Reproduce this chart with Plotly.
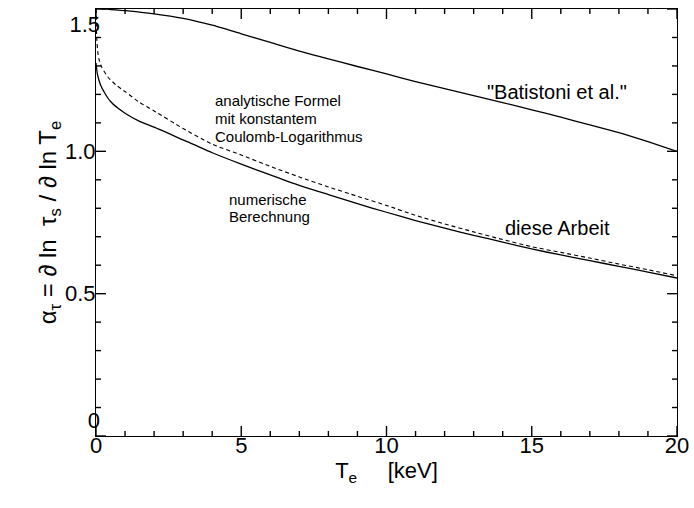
import plotly.graph_objects as go

# --- data ---
T_bat = [0, 1, 2, 3, 4, 5, 6, 7, 8, 9, 10, 11, 12, 13, 14, 15, 16, 17, 18, 19, 20]
alpha_bat = [1.502, 1.494, 1.483, 1.467, 1.443, 1.413, 1.383, 1.352, 1.325, 1.298, 1.272,
             1.245, 1.22, 1.196, 1.171, 1.146, 1.12, 1.093, 1.066, 1.034, 1.0]

T_num = [0, 0.05, 0.15, 0.3, 0.5, 0.75, 1, 1.5, 2, 3, 4, 5, 6, 7, 8, 9, 10, 11, 12, 13,
         14, 15, 16, 17, 18, 19, 20]
alpha_num = [1.31, 1.27, 1.235, 1.205, 1.175, 1.152, 1.134, 1.105, 1.085, 1.04, 0.995, 0.955,
             0.917, 0.88, 0.848, 0.816, 0.786, 0.757, 0.73, 0.705, 0.681, 0.657, 0.636,
             0.616, 0.596, 0.576, 0.555]

T_ana = [0, 0.01, 0.03, 0.06, 0.1, 0.2, 0.4, 0.7, 1, 1.5, 2, 3, 4, 5, 6, 7, 8, 9, 10, 11,
         12, 13, 14, 15, 16, 17, 18, 19, 20]
alpha_ana = [1.5, 1.44, 1.39, 1.35, 1.325, 1.295, 1.262, 1.232, 1.21, 1.172, 1.142, 1.08,
             1.025, 0.987, 0.947, 0.91, 0.875, 0.842, 0.81, 0.775, 0.745, 0.717, 0.69,
             0.665, 0.645, 0.625, 0.604, 0.584, 0.563]

x_ticks = [0, 5, 10, 15, 20]
x_minor = list(range(0, 21))
y_ticks = [0, 0.5, 1.0, 1.5]
y_minor = [round(0.1 * i, 1) for i in range(16)]
y_mid_ticks = [0.5, 1.0]
y_mid_labels = ["0.5", "1.0"]

labels_ana = ["analytische Formel", "mit konstantem", "Coulomb-Logarithmus"]
labels_ana_y = [1.177, 1.115, 1.052]
labels_num = ["numerische", "Berechnung"]
labels_num_y = [0.831, 0.771]

FONT = "Liberation Sans, Arial, Helvetica, sans-serif"
XR = [0, 20]
YR = [0, 1.5]
W, H = 694, 508
M = dict(l=96, r=17, t=9, b=72)
MAJOR_PX, MINOR_PX = 10, 5

# pixel -> data conversion for the inside tick marks (follows the axis scales)
plot_w = W - M["l"] - M["r"]
plot_h = H - M["t"] - M["b"]
dx_per_px = (XR[1] - XR[0]) / plot_w
dy_per_px = (YR[1] - YR[0]) / plot_h

fig = go.Figure()
line_style = dict(color="black", width=1.3, shape="spline", smoothing=0.6)
fig.add_trace(go.Scatter(x=T_bat, y=alpha_bat, mode="lines", line=line_style,
                         yaxis="y2", showlegend=False, hoverinfo="skip"))
fig.add_trace(go.Scatter(x=T_num, y=alpha_num, mode="lines", line=line_style,
                         yaxis="y3", showlegend=False, hoverinfo="skip"))
fig.add_trace(go.Scatter(x=T_ana, y=alpha_ana, mode="lines",
                         line=dict(line_style, dash="4px,3px", width=1.1),
                         showlegend=False, hoverinfo="skip"))

# inside tick marks on all four sides, placed through the main axes
tx, ty = [], []
for v in x_minor:
    L = (MAJOR_PX if v in x_ticks else MINOR_PX) * dy_per_px
    tx += [v, v, None, v, v, None]
    ty += [YR[0], YR[0] + L, None, YR[1], YR[1] - L, None]
for v in y_minor:
    L = (MAJOR_PX if v in y_ticks else MINOR_PX) * dx_per_px
    tx += [XR[0], XR[0] + L, None, XR[1], XR[1] - L, None]
    ty += [v, v, None, v, v, None]
fig.add_trace(go.Scatter(x=tx, y=ty, mode="lines", line=dict(color="black", width=1.4),
                         connectgaps=False, cliponaxis=False,
                         showlegend=False, hoverinfo="skip"))

for txt, yy in zip(labels_ana, labels_ana_y):
    fig.add_annotation(x=4.03, y=yy, text=txt, showarrow=False, xanchor="left",
                       yanchor="middle", font=dict(size=15, color="black", family=FONT))
for txt, yy in zip(labels_num, labels_num_y):
    fig.add_annotation(x=4.5, y=yy, text=txt, showarrow=False, xanchor="left",
                       yanchor="middle", font=dict(size=15, color="black", family=FONT))
fig.add_annotation(x=15.87, y=0.732, text="diese Arbeit", showarrow=False,
                   xanchor="center", yanchor="middle",
                   font=dict(size=20, color="black", family=FONT))
fig.add_annotation(x=15.87, y=1.21, text="\"Batistoni et al.\"", showarrow=False,
                   xanchor="center", yanchor="middle",
                   font=dict(size=20, color="black", family=FONT))

tickfont = dict(size=22, color="black", family=FONT)
plain = dict(showgrid=False, zeroline=False, automargin=False)


def label_axis_y(vals, labels, position):
    return dict(range=YR, overlaying="y", anchor="x", side="left", tickmode="array",
                tickvals=vals, ticktext=labels, ticks="", showline=False,
                tickfont=tickfont, ticklabelstandoff=-5, ticklabelposition=position,
                ticklabeloverflow="allow", **plain)


fig.update_layout(
    xaxis=dict(range=XR, tickmode="array", tickvals=x_ticks, ticks="", showline=True,
               linecolor="black", linewidth=1, mirror=True, tickfont=tickfont,
               ticklabelstandoff=-10, ticklabeloverflow="allow",
               title=dict(text="T<sub>e</sub>" + "\u00a0" * 5 + "[keV]",
                          font=dict(size=22, color="black", family=FONT), standoff=0),
               **plain),
    yaxis=dict(range=YR, tickmode="array", tickvals=y_mid_ticks, ticktext=y_mid_labels,
               ticks="", showline=True, linecolor="black", linewidth=1, mirror=True,
               tickfont=tickfont, ticklabelstandoff=-5, ticklabeloverflow="allow",
               title=dict(text="\u03b1<sub>\u03c4</sub> = \u2202 ln\u00a0\u00a0\u03c4<sub>s</sub> / \u2202 ln T<sub>e</sub>",
                          font=dict(size=24, color="black", family=FONT), standoff=0),
               **plain),
    yaxis2=label_axis_y([0], ["0"], "outside top"),
    yaxis3=label_axis_y([1.5], ["1.5"], "outside bottom"),
    width=W, height=H, margin=M,
    plot_bgcolor="white", paper_bgcolor="white",
    font=dict(family=FONT, color="black"),
)

fig.write_html("out.html")
